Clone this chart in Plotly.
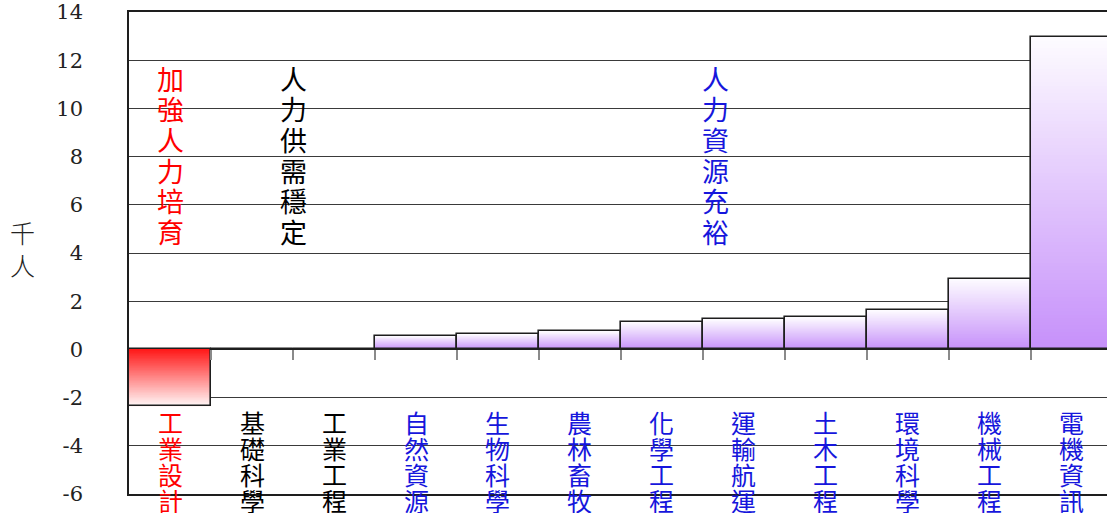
import plotly.graph_objects as go

# Net manpower supply/demand by field (thousand persons)
categories = ["工業設計", "基礎科學", "工業工程", "自然資源", "生物科學", "農林畜牧",
              "化學工程", "運輸航運", "土木工程", "環境科學", "機械工程", "電機資訊"]
values = [-2.35, 0.0, 0.0, 0.57, 0.64, 0.75, 1.14, 1.25, 1.33, 1.63, 2.93, 12.95]
groups = [0, 1, 1, 2, 2, 2, 2, 2, 2, 2, 2, 2]
group_labels = ["加強人力培育", "人力供需穩定", "人力資源充裕"]
group_label_pos = [0.0, 1.5, 6.65]
y_ticks = [14, 12, 10, 8, 6, 4, 2, 0, -2, -4, -6]

group_text_colors = ["#ff0000", "#000000", "#1616dc"]
group_bar_colors = [(255, 24, 24), (198, 144, 250), (198, 144, 250)]

idx = list(range(len(categories)))
x_range = [-0.5, 11.427]
y_range = [-6, 14]


def blend(rgb, t):
    r, g, b = (round(c + (255 - c) * t) for c in rgb)
    return f"rgb({r},{g},{b})"


def to_paper_y(v):
    return (v - y_range[0]) / (y_range[1] - y_range[0])


# Gradient fill: nested bar pieces, each running from a point along the bar to its tip,
# saturated at the zero side and fading to white at the far end.
steps = 90
gx, gbase, gy, gcol = [], [], [], []
for k in range(steps):
    t = k / steps
    for i, v in zip(idx, values):
        if v == 0:
            continue
        gx.append(i)
        gbase.append(v * t)
        gy.append(v * (1 - t))
        gcol.append(blend(group_bar_colors[groups[i]], (k + 0.5) / steps * 0.97))

fig = go.Figure()
fig.add_trace(go.Bar(
    x=gx, y=gy, base=gbase, width=1,
    marker=dict(color=gcol, line=dict(width=0)),
    hoverinfo="skip", showlegend=False,
))
fig.add_trace(go.Bar(
    x=idx, y=values, width=1,
    marker=dict(color="rgba(0,0,0,0)", line=dict(color="#1e1e1e", width=1.6)),
    hovertext=categories, showlegend=False,
))
# Category boundary ticks sitting on the zero line
fig.add_trace(go.Scatter(x=[None], y=[None], xaxis="x2", showlegend=False, hoverinfo="skip"))


def vertical_text(text, x, y_first, step, size, color):
    """Stack the characters of a label top to bottom, one annotation per character."""
    return [dict(
        x=x, y=to_paper_y(y_first - j * step), xref="x", yref="paper",
        xanchor="center", yanchor="middle", text=ch, showarrow=False,
        font=dict(family="Noto Sans CJK TC", size=size, color=color),
    ) for j, ch in enumerate(text)]


annotations = []
for i, name in enumerate(categories):
    annotations += vertical_text(name, i, -3.0, 1.08, 25, group_text_colors[groups[i]])
for g, (label, pos) in enumerate(zip(group_labels, group_label_pos)):
    annotations += vertical_text(label, pos, 11.26, 1.274, 27, group_text_colors[g])
annotations.append(dict(
    x=-0.1094, y=to_paper_y(4.2), xref="paper", yref="paper", xanchor="center", yanchor="middle",
    text="千<br>人", showarrow=False,
    font=dict(family="Noto Sans CJK TC", size=25, color="#222222", weight=300),
))

fig.update_layout(
    width=1107, height=513,
    margin=dict(l=129, r=0, t=12, b=19),
    paper_bgcolor="white", plot_bgcolor="white",
    barmode="overlay", bargap=0,
    showlegend=False,
    annotations=annotations,
    xaxis=dict(
        range=x_range, showticklabels=False, ticks="", showgrid=False,
        zeroline=False, showline=True, linecolor="#1e1e1e", linewidth=1.6, mirror=True,
    ),
    xaxis2=dict(
        overlaying="x", anchor="free", position=to_paper_y(0),
        range=x_range, tickvals=[i + 0.5 for i in idx[:-1]], showticklabels=False,
        ticks="outside", ticklen=10, tickwidth=2, tickcolor="#8a8a8a",
        showgrid=False, zeroline=False, showline=False,
    ),
    yaxis=dict(
        range=y_range, tickvals=y_ticks, ticktext=[str(v) for v in y_ticks],
        tickfont=dict(family="DejaVu Serif", size=21, color="#222222"),
        ticklabelstandoff=40,
        showgrid=True, gridcolor="#3a3a3a", gridwidth=1,
        zeroline=True, zerolinecolor="#1e1e1e", zerolinewidth=1.6,
        showline=True, linecolor="#1e1e1e", linewidth=1.6, mirror=False,
    ),
)

fig.write_html("out.html")
